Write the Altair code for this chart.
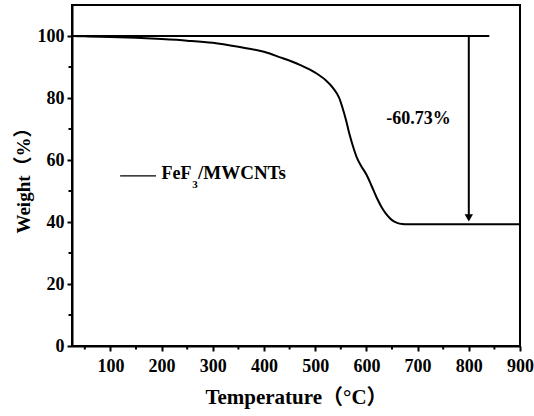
import altair as alt
import pandas as pd

# TGA curve
temps = [25, 50, 100, 150, 200, 250, 300, 350, 400, 430, 470, 500, 520, 535, 547, 553,
         560, 567, 575, 582, 590, 600, 610, 620, 630, 640, 650, 660, 670, 680, 900]
weights = [100.0, 99.9, 99.7, 99.4, 99.0, 98.5, 97.8, 96.5, 94.9, 93.2, 90.7, 88.2, 85.8,
           83.2, 80.0, 77.0, 73.0, 68.3, 63.8, 60.5, 58.0, 55.3, 51.7, 47.9, 44.7, 42.3,
           40.6, 39.7, 39.35, 39.27, 39.27]

# annotation values
ref_line_t = [25, 840]
ref_line_w = [100, 100]
arrow_t = [800, 800]
arrow_w = [100, 41.5]
arrow_head_t = [800]
arrow_head_w = [41.3]
loss_label = ["-60.73%"]
loss_t = [702]
loss_w = [73.2]
legend_line_t = [119, 189]
legend_line_w = [54.9, 54.9]
legend_parts = ["FeF", "3", "/MWCNTs"]
legend_part_t = [200, 260, 271]
legend_part_w = [53.9, 51.0, 53.9]
legend_part_size = [18, 11, 19]

x_major = list(range(100, 901, 100))
x_minor = list(range(50, 901, 100))
y_major = list(range(0, 101, 20))
y_minor = list(range(10, 101, 20))

FONT = "Liberation Serif, Noto Sans CJK SC"

curve_df = pd.DataFrame({"T": temps, "W": weights})
ref_df = pd.DataFrame({"T": ref_line_t, "W": ref_line_w})
arrow_df = pd.DataFrame({"T": arrow_t, "W": arrow_w})
head_df = pd.DataFrame({"T": arrow_head_t, "W": arrow_head_w})
loss_df = pd.DataFrame({"T": loss_t, "W": loss_w, "txt": loss_label})
leg_line_df = pd.DataFrame({"T": legend_line_t, "W": legend_line_w})
leg_txt_df = pd.DataFrame({"T": legend_part_t, "W": legend_part_w, "txt": legend_parts,
                           "sz": legend_part_size})
xminor_df = pd.DataFrame({"T": x_minor})
yminor_df = pd.DataFrame({"W": y_minor})

xscale = alt.Scale(domain=[25, 900], nice=False, zero=False)
yscale = alt.Scale(domain=[0, 110], nice=False)

xaxis = alt.Axis(
    title="Temperature（°C）",
    values=x_major,
    labelFont=FONT, labelFontSize=18, labelFontWeight="bold", labelColor="black",
    labelPadding=6, labelOverlap=False, labelFlush=False,
    titleFont=FONT, titleFontSize=21, titleFontWeight="bold", titleColor="black",
    titlePadding=11,
    tickSize=5, tickColor="black", tickWidth=2,
    domainColor="black", domainWidth=2, grid=False,
)
yaxis = alt.Axis(
    title="Weight（%）",
    values=y_major,
    labelFont=FONT, labelFontSize=18, labelFontWeight="bold", labelColor="black",
    labelPadding=3, labelOverlap=False, labelFlush=False,
    titleFont=FONT, titleFontSize=19, titleFontWeight="bold", titleColor="black",
    titlePadding=4,
    tickSize=5, tickColor="black", tickWidth=2,
    domainColor="black", domainWidth=2, grid=False,
)

curve = alt.Chart(curve_df).mark_line(color="black", strokeWidth=2, interpolate="monotone").encode(
    x=alt.X("T:Q", scale=xscale, axis=xaxis),
    y=alt.Y("W:Q", scale=yscale, axis=yaxis),
)
xminor = alt.Chart(xminor_df).mark_rule(color="black", strokeWidth=2).encode(
    x="T:Q", y=alt.value(341), y2=alt.value(344.5))
yminor = alt.Chart(yminor_df).mark_rule(color="black", strokeWidth=2).encode(
    y="W:Q", x=alt.value(0), x2=alt.value(-3.5))
ref = alt.Chart(ref_df).mark_line(color="black", strokeWidth=2).encode(x="T:Q", y="W:Q")
arrow = alt.Chart(arrow_df).mark_line(color="black", strokeWidth=2).encode(x="T:Q", y="W:Q")
head = alt.Chart(head_df).mark_point(shape="triangle-down", filled=True, color="black",
                                     size=70, opacity=1).encode(x="T:Q", y="W:Q")
loss = alt.Chart(loss_df).mark_text(font=FONT, fontSize=18, fontWeight="bold", color="black",
                                    align="center", baseline="middle").encode(
    x="T:Q", y="W:Q", text="txt:N")
leg_line = alt.Chart(leg_line_df).mark_line(color="black", strokeWidth=1.2).encode(x="T:Q", y="W:Q")
leg_txt = alt.Chart(leg_txt_df).mark_text(font=FONT, fontWeight="bold", color="black",
                                          align="left", baseline="alphabetic").encode(
    x="T:Q", y="W:Q", text="txt:N", size=alt.Size("sz:Q", scale=None, legend=None))

chart = alt.layer(curve, xminor, yminor, ref, arrow, head, loss, leg_line, leg_txt).properties(
    width=448, height=341,
    autosize=alt.AutoSizeParams(type="none"),
    padding={"left": 72, "top": 5, "right": 14, "bottom": 70},
    background="white",
).configure_view(stroke="black", strokeWidth=2)

chart.save("out.html", embed_options={"renderer": "svg", "actions": False})
